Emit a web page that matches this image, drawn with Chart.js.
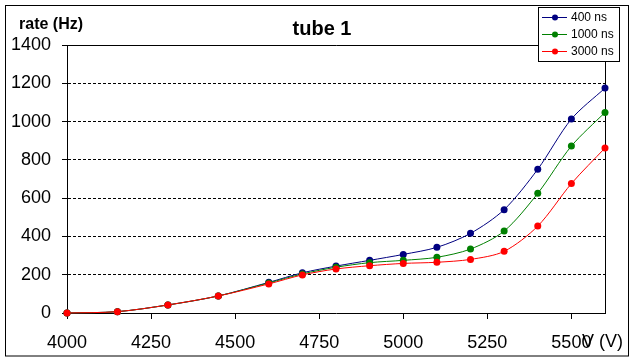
<!DOCTYPE html>
<html>
<head>
<meta charset="utf-8">
<script src="https://cdn.jsdelivr.net/npm/chart.js@4.4.0/dist/chart.umd.min.js"></script>
<style>
  body { margin: 0; background: #fff; }
  canvas { display: block; }
</style>
</head>
<body>
<canvas id="tubeChart" width="636" height="363"></canvas>
<script>
// values
const voltage = [4000, 4150, 4300, 4450, 4600, 4700, 4800, 4900, 5000, 5100, 5200, 5300, 5400, 5500, 5600];
const rate400 = [0, 7, 42, 89, 160, 210, 245, 275, 306, 343, 416, 540, 751, 1013, 1175];
const rate1000 = [0, 7, 42, 89, 157, 204, 239, 263, 275, 291, 334, 428, 625, 872, 1048];
const rate3000 = [0, 7, 42, 89, 152, 199, 230, 247, 259, 265, 280, 322, 454, 676, 862];
const seriesNames = ["400 ns", "1000 ns", "3000 ns"];
const seriesColors = ["#000080", "#008000", "#ff0000"];
const xTicks = [4000, 4250, 4500, 4750, 5000, 5250, 5500];

Chart.defaults.font.family = "'Liberation Sans', Arial, sans-serif";
Chart.defaults.color = "#000";

function toPoints(ys) {
    return voltage.map((v, i) => ({ x: v, y: ys[i] }));
}

function makeSet(i, ys) {
    return {
        label: seriesNames[i],
        data: toPoints(ys),
        borderColor: seriesColors[i],
        backgroundColor: seriesColors[i],
        borderWidth: 1,
        pointRadius: 3.5,
        pointBorderWidth: 0,
        tension: 0.3,
        clip: false,
        order: 2 - i // red on top
    };
}

// frame, plot border, legend and the loose texts
const decorations = {
    id: 'decorations',
    beforeDatasetsDraw(chart) {
        const { ctx, chartArea: a } = chart;
        ctx.save();
        ctx.strokeStyle = '#000';
        ctx.lineWidth = 1;
        ctx.beginPath();
        ctx.moveTo(a.left, a.top + 0.5);
        ctx.lineTo(a.right + 0.5, a.top + 0.5);
        ctx.lineTo(a.right + 0.5, a.bottom);
        ctx.stroke();
        ctx.restore();
    },
    afterDraw(chart) {
        const ctx = chart.ctx;
        ctx.save();
        ctx.strokeStyle = '#000';
        ctx.lineWidth = 1;
        ctx.strokeRect(5.5, 5.5, 623, 350.5);

        // legend
        ctx.fillStyle = '#fff';
        ctx.fillRect(538.5, 7.5, 81, 54);
        ctx.strokeRect(538.5, 7.5, 81, 54);
        ctx.font = "12px 'Liberation Sans', Arial, sans-serif";
        ctx.textBaseline = 'middle';
        ctx.textAlign = 'left';
        seriesNames.forEach((name, i) => {
            const y = 17 + i * 17;
            ctx.strokeStyle = seriesColors[i];
            ctx.beginPath();
            ctx.moveTo(542, y + 0.5);
            ctx.lineTo(567, y + 0.5);
            ctx.stroke();
            ctx.fillStyle = seriesColors[i];
            ctx.beginPath();
            ctx.arc(555, y + 0.5, 3, 0, Math.PI * 2);
            ctx.fill();
            ctx.fillStyle = '#000';
            ctx.fillText(name, 571, y + 1);
        });

        ctx.fillStyle = '#000';
        ctx.textAlign = 'center';
        ctx.font = "bold 20px 'Liberation Sans', Arial, sans-serif";
        ctx.fillText('tube 1', 322, 29);

        ctx.textAlign = 'left';
        ctx.font = "bold 16px 'Liberation Sans', Arial, sans-serif";
        ctx.fillText('rate (Hz)', 19, 25);

        ctx.font = "18px 'Liberation Sans', Arial, sans-serif";
        ctx.fillText('V (V)', 582, 342);
        ctx.restore();
    }
};

new Chart(document.getElementById('tubeChart'), {
    type: 'line',
    data: {
        datasets: [makeSet(0, rate400), makeSet(1, rate1000), makeSet(2, rate3000)]
    },
    options: {
        responsive: false,
        animation: false,
        devicePixelRatio: 1,
        layout: { padding: { left: 0, top: 45, right: 31, bottom: 0 } },
        plugins: {
            legend: { display: false },
            title: { display: false },
            tooltip: { enabled: false }
        },
        scales: {
            x: {
                type: 'linear',
                min: 4000,
                max: 5600,
                afterBuildTicks: s => { s.ticks = xTicks.map(v => ({ value: v })); },
                afterFit: s => { s.height = 50; },
                ticks: { font: { size: 18 }, padding: 13, maxRotation: 0, color: '#000', callback: v => String(v) },
                grid: { drawOnChartArea: false, drawTicks: true, tickLength: 6, tickColor: '#000' },
                border: { color: '#000', width: 1 }
            },
            y: {
                min: 0,
                max: 1400,
                ticks: { stepSize: 200, font: { size: 18 }, padding: 11, color: '#000', callback: v => String(v) },
                afterFit: s => { s.width = 67; },
                grid: {
                    color: c => (c.tick && (c.tick.value === 0 || c.tick.value === 1400)) ? 'rgba(0,0,0,0)' : '#000',
                    tickLength: 5,
                    tickColor: '#000'
                },
                border: { color: '#000', width: 1, dash: [3, 2] }
            }
        }
    },
    plugins: [decorations]
});
</script>
</body>
</html>
